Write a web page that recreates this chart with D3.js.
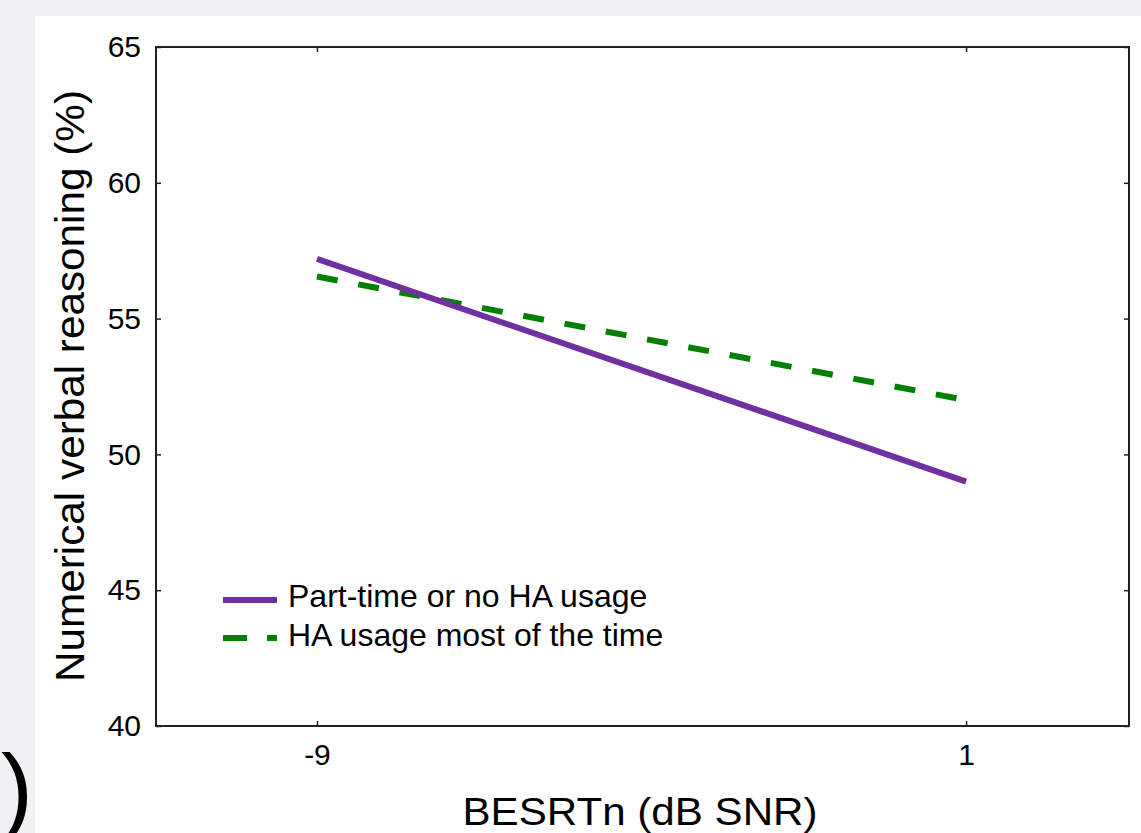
<!DOCTYPE html>
<html>
<head>
<meta charset="utf-8">
<script src="https://cdn.jsdelivr.net/npm/d3@7"></script>
<style>
  body { margin: 0; background: #f0f1f3; }
  svg { display: block; font-family: "Liberation Sans", Arial, sans-serif; }
</style>
</head>
<body>
<div id="chart"></div>
<script>
const xValues = [-9, 1]
const partTime = [57.2, 49.0]
const haMost = [56.55, 52.0]
const xTicks = [-9, 1]
const yTicks = [40, 45, 50, 55, 60, 65]
const seriesNames = ["Part-time or no HA usage", "HA usage most of the time"]

const W = 1141, H = 833
const margin = { left: 156, top: 47, right: 12, bottom: 107 }
const width = W - margin.left - margin.right
const height = H - margin.top - margin.bottom

const svg = d3.select("#chart").append("svg")
    .attr("width", W)
    .attr("height", H)

// white panel
svg.append("rect")
    .attr("x", 35).attr("y", 16)
    .attr("width", W - 35).attr("height", H - 16)
    .attr("fill", "#fff")

// cut-off panel label from the neighbouring figure
svg.append("text")
    .attr("x", 33).attr("y", 822)
    .attr("text-anchor", "end")
    .attr("font-size", 96)
    .attr("fill", "#000")
    .text("(c)")

const x = d3.scaleLinear().domain([-11.48, 3.51]).range([0, width])
const y = d3.scaleLinear().domain([40, 65]).range([height, 0])

const g = svg.append("g")
    .attr("transform", "translate(" + margin.left + "," + margin.top + ")")

// inward ticks on all sides
const tickLen = 5
g.append("g")
    .attr("transform", "translate(0," + height + ")")
    .call(d3.axisBottom(x).tickValues(xTicks).tickSize(-tickLen).tickPadding(18).tickFormat(d => String(d)))
g.append("g")
    .call(d3.axisTop(x).tickValues(xTicks).tickSize(-tickLen).tickFormat(""))
g.append("g")
    .call(d3.axisLeft(y).tickValues(yTicks).tickSize(-tickLen).tickPadding(15))
g.append("g")
    .attr("transform", "translate(" + width + ",0)")
    .call(d3.axisRight(y).tickValues(yTicks).tickSize(-tickLen).tickFormat(""))

g.selectAll(".domain").remove()
g.selectAll(".tick line").attr("stroke", "#222").attr("stroke-width", 1.5)
g.selectAll(".tick text").attr("font-size", 30).attr("fill", "#000")
    .attr("font-family", "Liberation Sans, Arial, sans-serif")

g.append("rect")
    .attr("width", width).attr("height", height)
    .attr("fill", "none")
    .attr("stroke", "#222")
    .attr("stroke-width", 2)

const line = d3.line()
    .x(d => x(d[0]))
    .y(d => y(d[1]))

g.append("path")
    .datum(xValues.map((v, i) => [v, haMost[i]]))
    .attr("d", line)
    .attr("fill", "none")
    .attr("stroke", "#008000")
    .attr("stroke-width", 6)
    .attr("stroke-dasharray", "21,21")

g.append("path")
    .datum(xValues.map((v, i) => [v, partTime[i]]))
    .attr("d", line)
    .attr("fill", "none")
    .attr("stroke", "#7030a0")
    .attr("stroke-width", 6)

// legend
const legend = [
    { name: seriesNames[0], color: "#7030a0", dash: null, yv: 600, base: 607 },
    { name: seriesNames[1], color: "#008000", dash: "24,20", yv: 638, base: 646 }
]
legend.forEach(l => {
    svg.append("line")
        .attr("x1", 223).attr("x2", 277)
        .attr("y1", l.yv).attr("y2", l.yv)
        .attr("stroke", l.color)
        .attr("stroke-width", 6)
        .attr("stroke-dasharray", l.dash)
    svg.append("text")
        .attr("x", 288).attr("y", l.base)
        .attr("font-size", 32)
        .attr("fill", "#000")
        .text(l.name)
})

// axis titles
svg.append("text")
    .attr("x", 640)
    .attr("y", 825)
    .attr("text-anchor", "middle")
    .attr("font-size", 39)
    .attr("textLength", 355)
    .attr("lengthAdjust", "spacingAndGlyphs")
    .text("BESRTn (dB SNR)")

svg.append("text")
    .attr("transform", "translate(84,386) rotate(-90)")
    .attr("text-anchor", "middle")
    .attr("font-size", 40)
    .attr("textLength", 592)
    .attr("lengthAdjust", "spacingAndGlyphs")
    .text("Numerical verbal reasoning (%)")
</script>
</body>
</html>
